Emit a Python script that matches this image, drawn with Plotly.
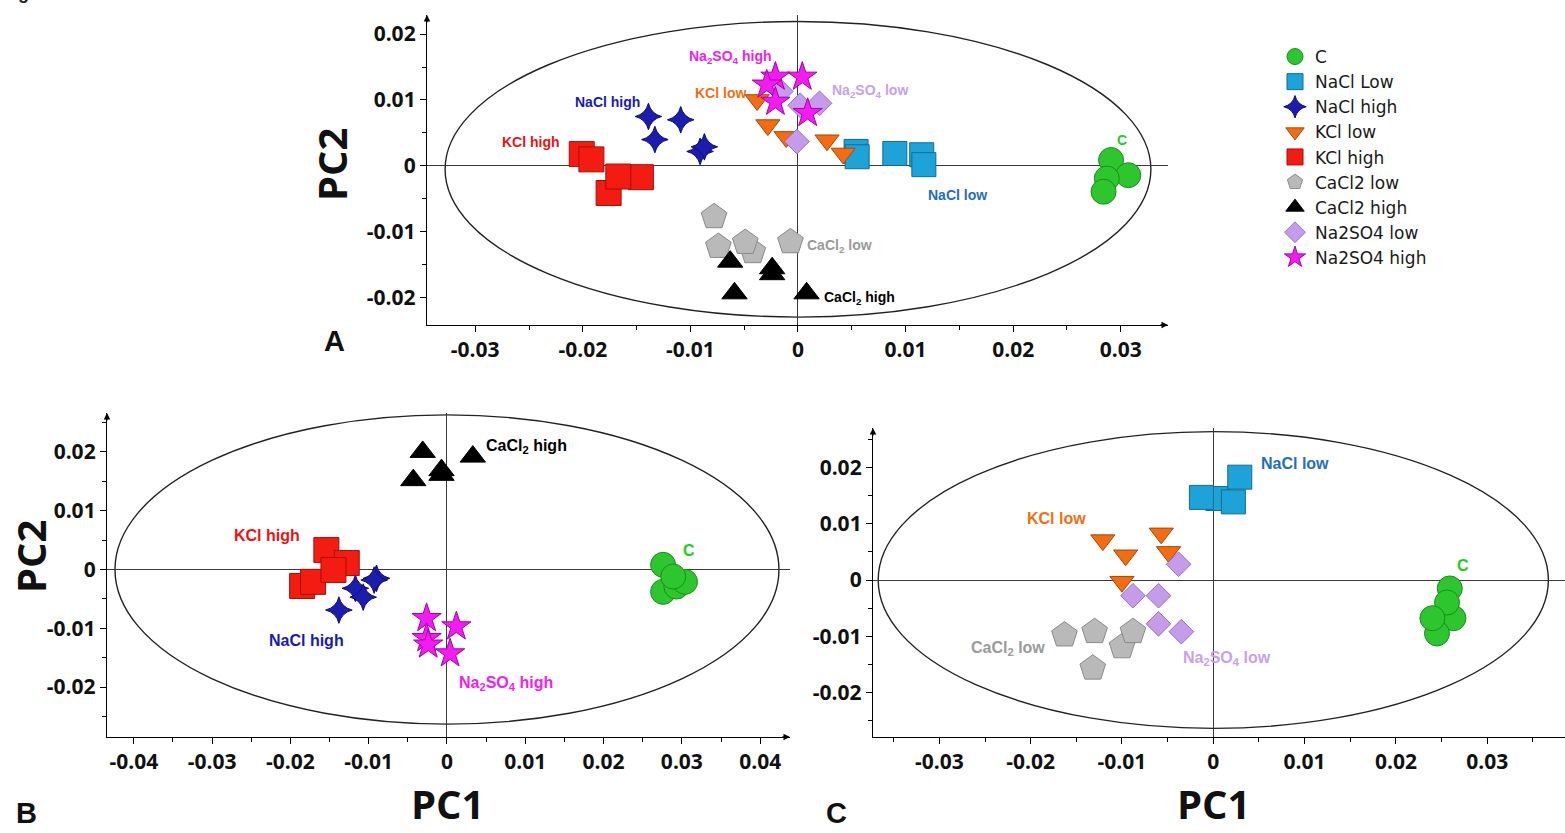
import plotly.graph_objects as go

W, H = 1565, 833

# ---------------- data ----------------
GROUPS = ["C", "NaCl Low", "NaCl high", "KCl low", "KCl high",
          "CaCl2 low", "CaCl2 high", "Na2SO4 low", "Na2SO4 high"]

# Panel A
A_C_PC1 = [0.0291, 0.0307, 0.0287, 0.0284]
A_C_PC2 = [0.0009, -0.0014, -0.0019, -0.0039]
A_NACL_LOW_PC1 = [0.0054, 0.0055, 0.0090, 0.0115, 0.0117]
A_NACL_LOW_PC2 = [0.0022, 0.0014, 0.0019, 0.0017, 0.0002]
A_NACL_HIGH_PC1 = [-0.0139, -0.0109, -0.0133, -0.0091, -0.0087]
A_NACL_HIGH_PC2 = [0.0075, 0.0070, 0.0040, 0.0022, 0.0029]
A_KCL_LOW_PC1 = [-0.0038, -0.0028, -0.0011, 0.0027, 0.0042]
A_KCL_LOW_PC2 = [0.0100, 0.0062, 0.0044, 0.0039, 0.0019]
A_KCL_HIGH_PC1 = [-0.0176, -0.0201, -0.0192, -0.0146, -0.0167]
A_KCL_HIGH_PC2 = [-0.0041, 0.0018, 0.0010, -0.0017, -0.0016]
A_CACL2_LOW_PC1 = [-0.0078, -0.0074, -0.0042, -0.0049, -0.0007]
A_CACL2_LOW_PC2 = [-0.0077, -0.0122, -0.0130, -0.0116, -0.0115]
A_CACL2_HIGH_PC1 = [-0.0063, -0.0024, -0.0024, -0.0059, 0.0008]
A_CACL2_HIGH_PC2 = [-0.0145, -0.0155, -0.0164, -0.0193, -0.0193]
A_NA2SO4_LOW_PC1 = [-0.0016, 0.0002, 0.0020, -0.0001]
A_NA2SO4_LOW_PC2 = [0.0113, 0.0092, 0.0095, 0.0037]
A_NA2SO4_HIGH_PC1 = [-0.0021, 0.0004, -0.0029, -0.0021, 0.0009]
A_NA2SO4_HIGH_PC2 = [0.0135, 0.0135, 0.0123, 0.0097, 0.0080]

# Panel B
B_C_PC1 = [0.0276, 0.0276, 0.0293, 0.0304, 0.0289]
B_C_PC2 = [0.0008, -0.0038, -0.0029, -0.0021, -0.0012]
B_NACL_HIGH_PC1 = [-0.0090, -0.0093, -0.0117, -0.0107, -0.0138]
B_NACL_HIGH_PC2 = [-0.0015, -0.0018, -0.0032, -0.0047, -0.0069]
B_KCL_HIGH_PC1 = [-0.0154, -0.0128, -0.0185, -0.0171, -0.0145]
B_KCL_HIGH_PC2 = [0.0033, 0.0011, -0.0028, -0.0021, -0.0001]
B_CACL2_HIGH_PC1 = [-0.0031, -0.0043, -0.0007, -0.0007, 0.0033]
B_CACL2_HIGH_PC2 = [0.0200, 0.0152, 0.0169, 0.0161, 0.0192]
B_NA2SO4_HIGH_PC1 = [-0.0026, -0.0026, -0.0024, 0.0012, 0.0004]
B_NA2SO4_HIGH_PC2 = [-0.0083, -0.0117, -0.0128, -0.0097, -0.0143]

# Panel C
C_C_PC1 = [0.0263, 0.0245, 0.0259, 0.0256, 0.0240]
C_C_PC2 = [-0.0068, -0.0095, -0.0015, -0.0040, -0.0068]
C_NACL_LOW_PC1 = [0.0005, 0.0029, -0.0013, 0.0022]
C_NACL_LOW_PC2 = [0.0145, 0.0183, 0.0147, 0.0139]
C_KCL_LOW_PC1 = [-0.0121, -0.0096, -0.0100, -0.0057, -0.0049]
C_KCL_LOW_PC2 = [0.0071, 0.0044, -0.0003, 0.0083, 0.0050]
C_CACL2_LOW_PC1 = [-0.0163, -0.0130, -0.0100, -0.0088, -0.0132]
C_CACL2_LOW_PC2 = [-0.0098, -0.0092, -0.0119, -0.0092, -0.0157]
C_NA2SO4_LOW_PC1 = [-0.0038, -0.0088, -0.0060, -0.0060, -0.0035]
C_NA2SO4_LOW_PC2 = [0.0028, -0.0028, -0.0028, -0.0078, -0.0092]

# Tick values / labels
A_XTICKS = [-0.03, -0.02, -0.01, 0, 0.01, 0.02, 0.03]
A_XTICKTEXT = ["-0.03", "-0.02", "-0.01", "0", "0.01", "0.02", "0.03"]
A_YTICKS = [-0.02, -0.01, 0, 0.01, 0.02]
A_YTICKTEXT = ["-0.02", "-0.01", "0", "0.01", "0.02"]
B_XTICKS = [-0.04, -0.03, -0.02, -0.01, 0, 0.01, 0.02, 0.03, 0.04]
B_XTICKTEXT = ["-0.04", "-0.03", "-0.02", "-0.01", "0", "0.01", "0.02", "0.03", "0.04"]
B_YTICKS = [-0.02, -0.01, 0, 0.01, 0.02]
B_YTICKTEXT = ["-0.02", "-0.01", "0", "0.01", "0.02"]
C_XTICKS = [-0.03, -0.02, -0.01, 0, 0.01, 0.02, 0.03]
C_XTICKTEXT = ["-0.03", "-0.02", "-0.01", "0", "0.01", "0.02", "0.03"]
C_YTICKS = [-0.02, -0.01, 0, 0.01, 0.02]
C_YTICKTEXT = ["-0.02", "-0.01", "0", "0.01", "0.02"]

# Hotelling ellipse half-axes (PC1, PC2) and centre
A_ELLIPSE = [0.0328, 0.0224, 0.0, -0.0005]
B_ELLIPSE = [0.0424, 0.0263, 0.0, 0.0]
C_ELLIPSE = [0.0367, 0.0264, 0.0, 0.0]

# Group labels: text, PC1, PC2, colour
A_LABELS = [("<b>Na<sub>2</sub>SO<sub>4</sub> high</b>", -0.0063, 0.0165, "#ee22ee"),
            ("<b>KCl low</b>", -0.0072, 0.0110, "#f07010"),
            ("<b>Na<sub>2</sub>SO<sub>4</sub> low</b>", 0.0067, 0.0113, "#c8a0f0"),
            ("<b>NaCl high</b>", -0.0177, 0.0097, "#1a1ab8"),
            ("<b>KCl high</b>", -0.0248, 0.0037, "#ee1111"),
            ("<b>NaCl low</b>", 0.0148, -0.0044, "#1f6fbf"),
            ("<b>C</b>", 0.0301, 0.0040, "#22cc22"),
            ("<b>CaCl<sub>2</sub> low</b>", 0.0039, -0.0122, "#9a9a9a"),
            ("<b>CaCl<sub>2</sub> high</b>", 0.0057, -0.0200, "#000000")]
B_LABELS = [("<b>CaCl<sub>2</sub> high</b>", 0.0102, 0.0209, "#000000"),
            ("<b>KCl high</b>", -0.0230, 0.0057, "#ee1111"),
            ("<b>NaCl high</b>", -0.0179, -0.0120, "#1a1ab8"),
            ("<b>Na<sub>2</sub>SO<sub>4</sub> high</b>", 0.0076, -0.0194, "#ee22ee"),
            ("<b>C</b>", 0.0309, 0.0032, "#22cc22")]
C_LABELS = [("<b>NaCl low</b>", 0.0089, 0.0208, "#1f6fbf"),
            ("<b>KCl low</b>", -0.0172, 0.0110, "#f07010"),
            ("<b>CaCl<sub>2</sub> low</b>", -0.0225, -0.0122, "#9a9a9a"),
            ("<b>Na<sub>2</sub>SO<sub>4</sub> low</b>", 0.0015, -0.0139, "#c8a0f0"),
            ("<b>C</b>", 0.0273, 0.0025, "#22cc22")]

# ---------------- styles ----------------
STYLE = {
    "C":           dict(symbol="circle", size=25, color="#2ec62e", line="#1c8c1c"),
    "NaCl Low":    dict(symbol="square", size=24, color="#1ea3d8", line="#0c6e96"),
    "NaCl high":   dict(symbol="star-diamond", size=19, color="#1c1caf", line="#0e0e78"),
    "KCl low":     dict(symbol="triangle-down", size=21, color="#f46c12", line="#a84700"),
    "KCl high":    dict(symbol="square", size=25, color="#f41c12", line="#a50f0a"),
    "CaCl2 low":   dict(symbol="pentagon", size=27, color="#b9b9b9", line="#8a8a8a"),
    "CaCl2 high":  dict(symbol="triangle-up", size=22, color="#000000", line="#000000"),
    "Na2SO4 low":  dict(symbol="diamond", size=19, color="#c49cea", line="#9a6fc6"),
    "Na2SO4 high": dict(symbol="star", size=22, color="#f01cf0", line="#a800a8"),
}

PANELS = {
    "A": {"C": (A_C_PC1, A_C_PC2), "NaCl Low": (A_NACL_LOW_PC1, A_NACL_LOW_PC2),
          "NaCl high": (A_NACL_HIGH_PC1, A_NACL_HIGH_PC2), "KCl low": (A_KCL_LOW_PC1, A_KCL_LOW_PC2),
          "KCl high": (A_KCL_HIGH_PC1, A_KCL_HIGH_PC2), "CaCl2 low": (A_CACL2_LOW_PC1, A_CACL2_LOW_PC2),
          "CaCl2 high": (A_CACL2_HIGH_PC1, A_CACL2_HIGH_PC2), "Na2SO4 low": (A_NA2SO4_LOW_PC1, A_NA2SO4_LOW_PC2),
          "Na2SO4 high": (A_NA2SO4_HIGH_PC1, A_NA2SO4_HIGH_PC2)},
    "B": {"C": (B_C_PC1, B_C_PC2), "NaCl high": (B_NACL_HIGH_PC1, B_NACL_HIGH_PC2),
          "KCl high": (B_KCL_HIGH_PC1, B_KCL_HIGH_PC2), "CaCl2 high": (B_CACL2_HIGH_PC1, B_CACL2_HIGH_PC2),
          "Na2SO4 high": (B_NA2SO4_HIGH_PC1, B_NA2SO4_HIGH_PC2)},
    "C": {"C": (C_C_PC1, C_C_PC2), "NaCl Low": (C_NACL_LOW_PC1, C_NACL_LOW_PC2),
          "KCl low": (C_KCL_LOW_PC1, C_KCL_LOW_PC2), "CaCl2 low": (C_CACL2_LOW_PC1, C_CACL2_LOW_PC2),
          "Na2SO4 low": (C_NA2SO4_LOW_PC1, C_NA2SO4_LOW_PC2)},
}
AXES = {"A": ("x", "y"), "B": ("x2", "y2"), "C": ("x3", "y3")}

fig = go.Figure()
for panel, data in PANELS.items():
    xa, ya = AXES[panel]
    for g in GROUPS:
        if g not in data:
            continue
        xs, ys = data[g]
        st = STYLE[g]
        fig.add_trace(go.Scatter(
            x=xs, y=ys, mode="markers", name=g, xaxis=xa, yaxis=ya,
            showlegend=(panel == "A"), legendgroup=g, cliponaxis=False,
            marker=dict(symbol=st["symbol"], size=st["size"], color=st["color"],
                        line=dict(color=st["line"], width=1)),
            hoverinfo="skip"))

# ---------------- layout ----------------
TICKFONT = dict(family="Open Sans, DejaVu Sans, sans-serif", size=21, color="#111", weight="bold")


def axis(rng, dom, vals, text):
    return dict(range=rng, domain=dom, tickmode="array", tickvals=vals, ticktext=text,
                ticks="outside", ticklen=6, tickwidth=1.2, tickcolor="black",
                minor=dict(dtick=0.005, tick0=0, ticks="outside", ticklen=4, tickcolor="black", tickwidth=1),
                showline=True, linecolor="black", linewidth=1.3, showgrid=False,
                zeroline=True, zerolinecolor="#3a3a3a", zerolinewidth=1,
                tickfont=TICKFONT, fixedrange=True)


def px_dom(a, b, total, flip=False):
    if flip:
        return [1 - b / total, 1 - a / total]
    return [a / total, b / total]


layout = dict(
    width=W, height=H, margin=dict(l=0, r=0, t=0, b=0),
    paper_bgcolor="white", plot_bgcolor="white",
    xaxis=axis([-0.03448, 0.03439], px_dom(427, 1168, W), A_XTICKS, A_XTICKTEXT),
    yaxis=axis([-0.0241, 0.02288], px_dom(15, 325, H, True), A_YTICKS, A_YTICKTEXT),
    xaxis2=axis([-0.04342, 0.04381], px_dom(107, 790, W), B_XTICKS, B_XTICKTEXT),
    yaxis2=axis([-0.02849, 0.02662], px_dom(413, 737, H, True), B_YTICKS, B_YTICKTEXT),
    xaxis3=axis([-0.03727, 0.03852], px_dom(873, 1565, W), C_XTICKS, C_XTICKTEXT),
    yaxis3=axis([-0.02794, 0.02705], px_dom(428, 737, H, True), C_YTICKS, C_YTICKTEXT),
    legend=dict(x=1275 / W, y=1 - 39 / H, xanchor="left", yanchor="top",
                font=dict(family="DejaVu Sans", size=17, color="#1a1a1a"),
                bgcolor="rgba(0,0,0,0)", itemsizing="trace", tracegroupgap=0),
    showlegend=True,
)
layout["xaxis"]["anchor"] = "y"
layout["yaxis"]["anchor"] = "x"
layout["xaxis2"]["anchor"] = "y2"
layout["yaxis2"]["anchor"] = "x2"
layout["xaxis3"]["anchor"] = "y3"
layout["yaxis3"]["anchor"] = "x3"
fig.update_layout(**layout)

# ellipses
for panel, ell in (("A", A_ELLIPSE), ("B", B_ELLIPSE), ("C", C_ELLIPSE)):
    xa, ya = AXES[panel]
    rx, ry, cx, cy = ell
    fig.add_shape(type="circle", xref=xa, yref=ya, x0=cx - rx, x1=cx + rx, y0=cy - ry, y1=cy + ry,
                  line=dict(color="#222", width=1.4), layer="below")

# labels
LABEL_SIZE = {"A": 14, "B": 16, "C": 16}
for panel, labs in (("A", A_LABELS), ("B", B_LABELS), ("C", C_LABELS)):
    xa, ya = AXES[panel]
    for txt, lx, ly, col in labs:
        fig.add_annotation(text=txt, x=lx, y=ly, xref=xa, yref=ya, showarrow=False,
                           xanchor="center", yanchor="middle",
                           font=dict(family="Liberation Sans, Arial, sans-serif", size=LABEL_SIZE[panel], color=col))

# axis arrows
for xa, ya, has_x in (("x", "y", True), ("x2", "y2", True), ("x3", "y3", False)):
    fig.add_annotation(x=0, y=1, xref=xa + " domain", yref=ya + " domain", text="", showarrow=True,
                       ax=0, ay=9, arrowhead=2, arrowsize=1, arrowwidth=1.3, arrowcolor="black")
    if has_x:
        fig.add_annotation(x=1, y=0, xref=xa + " domain", yref=ya + " domain", text="", showarrow=True,
                           ax=-9, ay=0, arrowhead=2, arrowsize=1, arrowwidth=1.3, arrowcolor="black")

TITLEFONT = dict(family="Open Sans, DejaVu Sans, sans-serif", size=40, color="#111", weight="bold")
for txt, tx, ty, ang in (("PC2", 332, 165, -90), ("PC2", 30, 557, -90),
                         ("PC1", 447, 803, 0), ("PC1", 1213, 803, 0)):
    fig.add_annotation(text=txt, x=tx / W, y=1 - ty / H, xref="paper", yref="paper", showarrow=False,
                       xanchor="center", yanchor="middle", textangle=ang, font=TITLEFONT)
LETTERFONT = dict(family="Liberation Sans, Arial, sans-serif", size=29, color="#111", weight="bold")
for letter, lx, ly in (("A", 334, 341), ("B", 26, 813), ("C", 836, 813)):
    fig.add_annotation(text=letter, x=lx / W, y=1 - ly / H, xref="paper", yref="paper", showarrow=False,
                       xanchor="center", yanchor="middle", font=LETTERFONT)
fig.add_annotation(text="Figure 1", x=0, y=1 - 5 / H, xref="paper", yref="paper", xanchor="left",
                   yanchor="bottom", showarrow=False,
                   font=dict(family="Liberation Sans, Arial, sans-serif", size=18, color="#222", weight="bold"))

fig.write_html("out.html")
